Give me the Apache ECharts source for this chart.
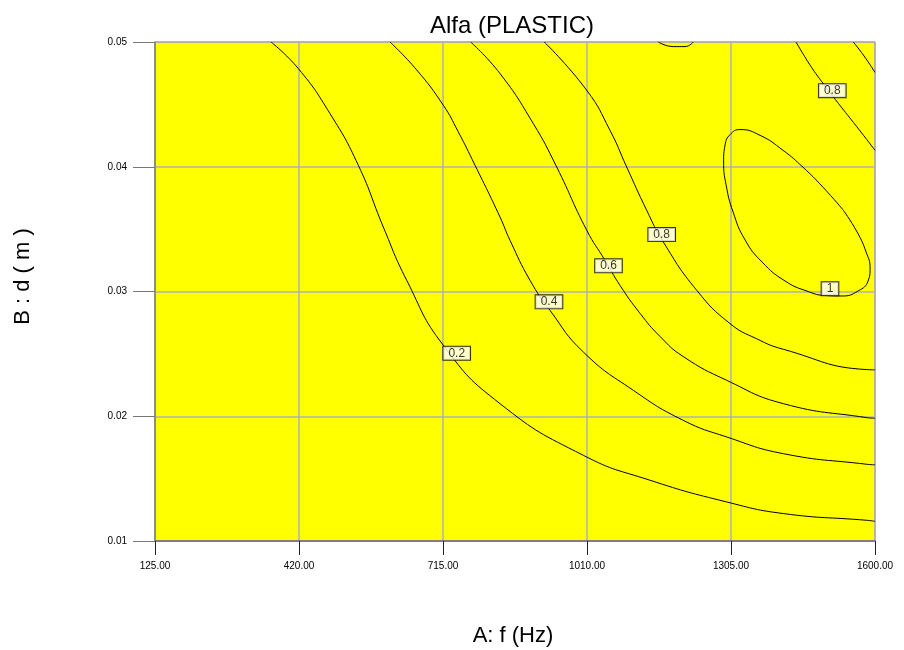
<!DOCTYPE html>
<html>
<head>
<meta charset="utf-8">
<script src="https://cdn.jsdelivr.net/npm/echarts@6/dist/echarts.min.js"></script>
<style>html,body{margin:0;padding:0;background:#fff;}#chart{width:904px;height:650px;}</style>
</head>
<body>
<div id="chart"></div>
<script>
// Axis ticks
const xTicks = [125, 420, 715, 1010, 1305, 1600];
const yTicks = [0.01, 0.02, 0.03, 0.04, 0.05];

// Contour lines [A: f (Hz), B: d (m)]
const contour02 = [[362.6,0.05],[418.6,0.04787],[483.5,0.04426],[541.5,0.04012],[592.7,0.03517],[640.6,0.0309],[715.6,0.02569],[831.8,0.02101],[1002.4,0.01687],[1139.1,0.01487],[1296.2,0.01313],[1412.1,0.0122],[1583,0.01166],[1600,0.01158]];
const contour04 = [[606.4,0.05],[661.1,0.04776],[715.6,0.04493],[745.7,0.04284],[780.6,0.04012],[831.8,0.03597],[852.3,0.0341],[893.2,0.0309],[934.2,0.02849],[1002.4,0.02515],[1104.8,0.02208],[1207.3,0.01967],[1296.2,0.01834],[1412.1,0.017],[1583,0.01615],[1600,0.01611]];
const contour06 = [[771.7,0.05],[831.8,0.04747],[900,0.04346],[947.9,0.03998],[1009.4,0.03491],[1046.9,0.03250],[1077.6,0.03049],[1118.6,0.02825],[1159.5,0.02640],[1206.6,0.02480],[1296.2,0.02288],[1412.1,0.02101],[1583,0.01989],[1600,0.01984]];
const contour08 = [[922.5,0.05],[1009.4,0.04613],[1057.1,0.04292],[1091.3,0.03998],[1132.3,0.03651],[1166.3,0.03397],[1234.7,0.0301],[1302.9,0.02743],[1357.6,0.02621],[1412.1,0.02537],[1583,0.02374],[1600,0.02372]];
const contour08Top = [[1438.2,0.05],[1466.8,0.04816],[1490.8,0.04683],[1524.8,0.04509],[1562.5,0.04322],[1600,0.04132]];
const contourCorner = [[1555.5,0.05],[1576.1,0.04896],[1600,0.04757]];
const contour10Top = [[1156.1,0.05],[1186.8,0.04963],[1210.8,0.04963],[1227.8,0.05]];
const contour10Loop = [[1534.6,0.03654],[1563.3,0.03477],[1581.7,0.03317],[1589.9,0.03188],[1585.8,0.03084],[1565.3,0.03004],[1532.5,0.02964],[1497.7,0.02968],[1462.9,0.03000],[1415.8,0.03084],[1368.7,0.03236],[1333.9,0.03413],[1309.3,0.03637],[1295.0,0.03854],[1289.9,0.04038],[1292.9,0.04175],[1303.2,0.04258],[1323.4,0.04298],[1364.4,0.04252],[1411.5,0.04132],[1452.5,0.03996],[1493.5,0.03836],[1534.6,0.03654]];

// Contour labels
const labelX = [743.1, 932.1, 1054, 1163, 1507.8, 1512.5];
const labelY = [0.02505, 0.02917, 0.03206, 0.03456, 0.03022, 0.0461];
const labelText = ['0.2', '0.4', '0.6', '0.8', '1', '0.8'];

const FONT = 'Liberation Sans, Arial, Helvetica, sans-serif';
const chart = echarts.init(document.getElementById('chart'), null, {renderer: 'canvas'});

function lineSeries(name, data) {
  return {
    name: name, type: 'line', data: data, smooth: 0.5, symbol: 'none',
    lineStyle: {color: '#000', width: 1}, z: 3, silent: true, animation: false
  };
}

const contours = [
  ['0.2', contour02], ['0.4', contour04], ['0.6', contour06], ['0.8', contour08],
  ['0.8 top', contour08Top], ['corner', contourCorner], ['1 top', contour10Top], ['1', contour10Loop]
];

const series = contours.map(c => lineSeries(c[0], c[1]));
series.push({
  name: 'labels', type: 'scatter', symbol: 'rect', symbolSize: 1,
  itemStyle: {color: 'rgba(0,0,0,0)'}, z: 5, silent: true, animation: false,
  data: labelX.map((x, i) => [x, labelY[i], labelText[i]]),
  label: {
    show: true, position: 'inside', formatter: p => p.value[2],
    fontFamily: FONT, fontSize: 12, color: '#000', lineHeight: 12,
    backgroundColor: '#ffffff', borderColor: '#000', borderWidth: 1, padding: [1, 5, 0, 5]
  },
  labelLayout: {hideOverlap: false}
});

chart.setOption({
  backgroundColor: '#fff',
  animation: false,
  title: {
    text: 'Alfa (PLASTIC)', left: 507, top: 9, textAlign: 'center',
    textStyle: {fontFamily: FONT, fontSize: 24, fontWeight: 'normal', color: '#000'}
  },
  grid: {
    left: 155, right: 29, top: 42, bottom: 109, outerBoundsMode: 'none', containLabel: false,
    show: true, backgroundColor: '#ffff00', borderColor: '#8a8a8a', borderWidth: 1
  },
  xAxis: {
    type: 'value', min: 125, max: 1600,
    name: 'A: f (Hz)', nameLocation: 'middle', nameGap: 84,
    nameTextStyle: {fontFamily: FONT, fontSize: 22, color: '#000', padding: [0, 4, 0, 0]},
    axisLine: {show: true, lineStyle: {color: '#808080', width: 2}},
    axisTick: {show: true, length: 14, customValues: xTicks, lineStyle: {color: '#222', width: 1}},
    axisLabel: {customValues: xTicks, formatter: v => Number(v).toFixed(2), margin: 20,
      fontFamily: FONT, fontSize: 10, color: '#000'},
    splitLine: {show: true, lineStyle: {color: '#b0b0b0', width: 1.5}}
  },
  yAxis: {
    type: 'value', min: 0.01, max: 0.05,
    name: 'B : d ( m )', nameLocation: 'middle', nameGap: 121, nameRotate: 90,
    nameTextStyle: {fontFamily: FONT, fontSize: 22, color: '#000', padding: [0, 0, 0, 30]},
    axisLine: {show: true, lineStyle: {color: '#808080', width: 1.5}},
    axisTick: {show: true, length: 22, customValues: yTicks, lineStyle: {color: '#777', width: 1}},
    axisLabel: {customValues: yTicks, formatter: v => String(Number(v.toFixed(2))), margin: 28,
      fontFamily: FONT, fontSize: 10, color: '#000'},
    splitLine: {show: true, lineStyle: {color: '#b0b0b0', width: 1.5}}
  },
  series: series
});
</script>
</body>
</html>
